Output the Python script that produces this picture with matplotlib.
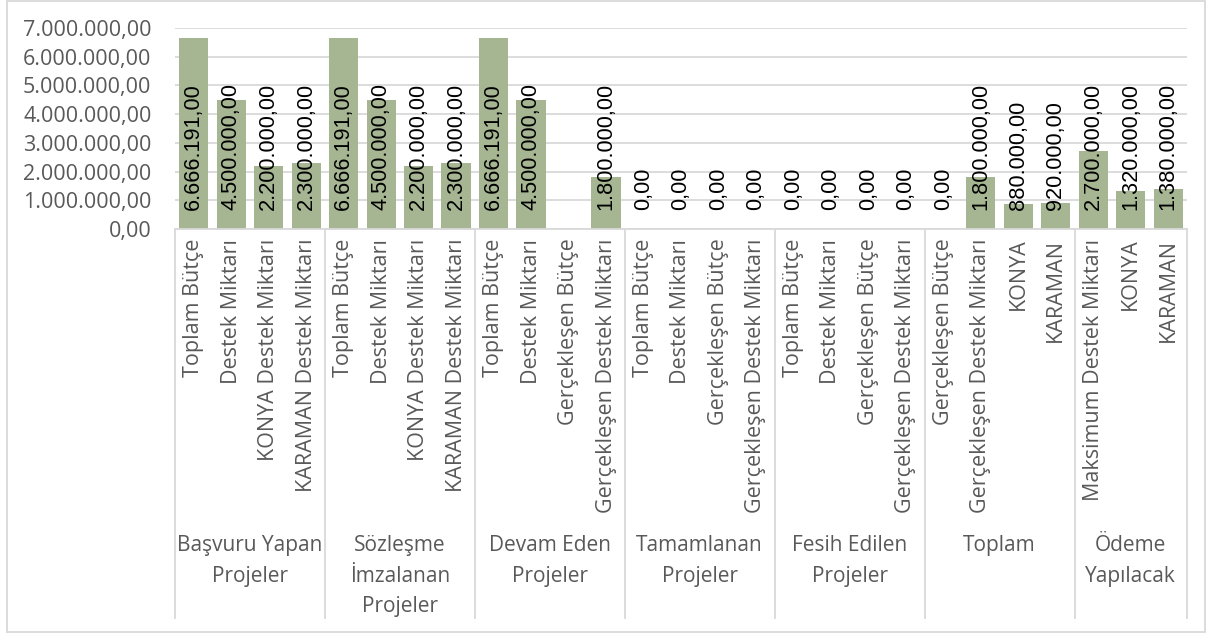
import numpy as np
import matplotlib
matplotlib.use("Agg")
import matplotlib.pyplot as plt
from matplotlib.transforms import blended_transform_factory
from matplotlib.patches import Rectangle
from matplotlib.ticker import FuncFormatter

# data
groups = ['Başvuru Yapan\nProjeler', 'Sözleşme\nİmzalanan\nProjeler', 'Devam Eden\nProjeler',
          'Tamamlanan\nProjeler', 'Fesih Edilen\nProjeler', 'Toplam', 'Ödeme\nYapılacak']
group_sizes = [4, 4, 4, 4, 4, 4, 3]
categories = ['Toplam Bütçe', 'Destek Miktarı', 'KONYA Destek Miktarı', 'KARAMAN Destek Miktarı',
              'Toplam Bütçe', 'Destek Miktarı', 'KONYA Destek Miktarı', 'KARAMAN Destek Miktarı',
              'Toplam Bütçe', 'Destek Miktarı', 'Gerçekleşen Bütçe', 'Gerçekleşen Destek Miktarı',
              'Toplam Bütçe', 'Destek Miktarı', 'Gerçekleşen Bütçe', 'Gerçekleşen Destek Miktarı',
              'Toplam Bütçe', 'Destek Miktarı', 'Gerçekleşen Bütçe', 'Gerçekleşen Destek Miktarı',
              'Gerçekleşen Bütçe', 'Gerçekleşen Destek Miktarı', 'KONYA', 'KARAMAN',
              'Maksimum Destek Miktarı', 'KONYA', 'KARAMAN']
values = [6666191, 4500000, 2200000, 2300000,
          6666191, 4500000, 2200000, 2300000,
          6666191, 4500000, np.nan, 1800000,
          0, 0, 0, 0,
          0, 0, 0, 0,
          0, 1800000, 880000, 920000,
          2700000, 1320000, 1380000]


def tr_fmt(v, pos=None):
    s = '{:,.2f}'.format(v)
    return s.replace(',', '#').replace('.', ',').replace('#', '.')


W, H = 1213, 633
fig = plt.figure(figsize=(W / 100, H / 100), dpi=100)
ax = fig.add_axes([175 / W, (H - 229) / H, (1187 - 175) / W, (229 - 28) / H])

gray = '#595959'
grid = '#d9d9d9'
bar_color = '#a6b592'

x = np.arange(len(values))
ax.bar(x, values, width=0.78, color=bar_color, zorder=2)

for i, v in enumerate(values):
    if np.isnan(v):
        continue
    ax.annotate(tr_fmt(v), (i, 0), xytext=(0, 13.5), textcoords='offset points',
                rotation=90, ha='center', va='bottom', fontsize=15.7,
                family='Liberation Sans', color='black', zorder=3)

ax.set_xlim(-0.5, len(values) - 0.5)
ax.set_ylim(0, 7000000)
ax.set_yticks(np.arange(0, 7000001, 1000000))
ax.yaxis.set_major_formatter(FuncFormatter(tr_fmt))
ax.grid(axis='y', color=grid, linewidth=1.3, zorder=0)
ax.set_axisbelow(True)
for s in ['top', 'right', 'left']:
    ax.spines[s].set_visible(False)
ax.spines['bottom'].set_color(grid)
ax.spines['bottom'].set_linewidth(1.3)
ax.tick_params(axis='y', length=0, pad=17, labelsize=15.5, labelcolor=gray)
for lab in ax.get_yticklabels():
    lab.set_family('Open Sans')

ax.set_xticks(x)
ax.set_xticklabels(categories, rotation=90, fontsize=15.5, color=gray, family='Open Sans')
ax.tick_params(axis='x', length=0, pad=7)

# group separators and group labels
tr = blended_transform_factory(ax.transData, fig.transFigure)
bounds = np.concatenate([[0], np.cumsum(group_sizes)]) - 0.5
for b in bounds:
    ax.plot([b, b], [(H - 229) / H, (H - 618) / H], color=grid, linewidth=1.3,
            transform=tr, clip_on=False)
for g, lo, hi in zip(groups, bounds[:-1], bounds[1:]):
    ax.text((lo + hi) / 2, (H - 535) / H, g, transform=tr, ha='center', va='top',
            fontsize=15, color=gray, family='Open Sans', linespacing=1.6)

fig.patches.append(Rectangle((7 / W, 1 / H), (1205 - 7) / W, (632 - 1) / H,
                             transform=fig.transFigure, fill=False,
                             edgecolor=grid, linewidth=1.3))

fig.savefig('out.png', dpi=100)
